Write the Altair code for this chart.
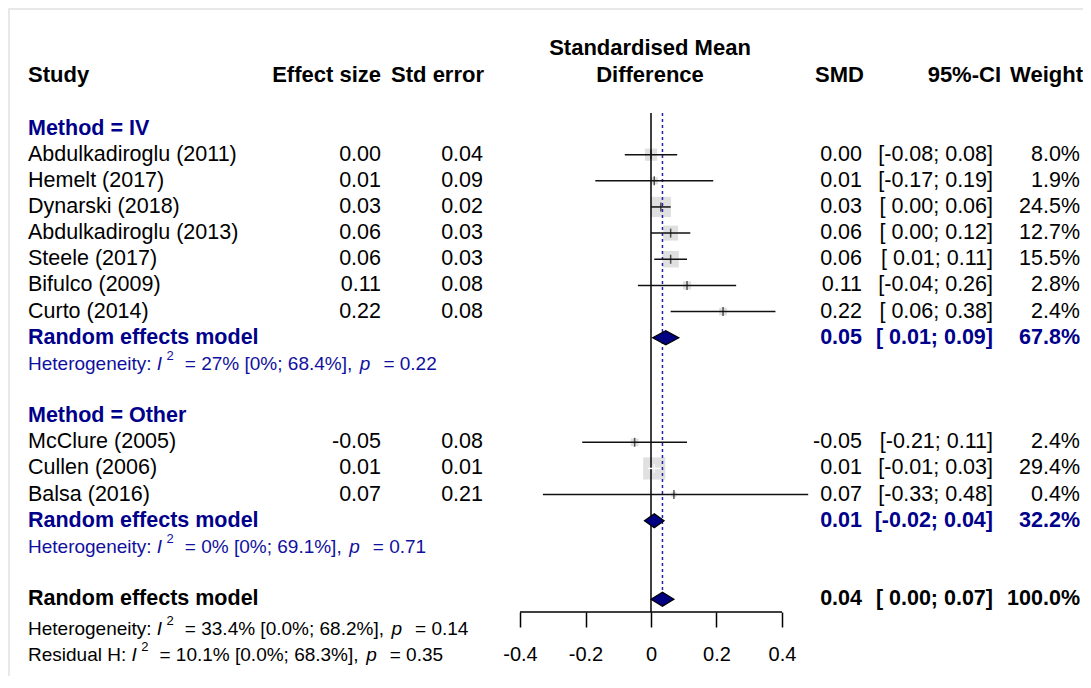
import altair as alt
import pandas as pd

# ---------------- data ----------------
studies = ["Abdulkadiroglu (2011)", "Hemelt (2017)", "Dynarski (2018)",
           "Abdulkadiroglu (2013)", "Steele (2017)", "Bifulco (2009)",
           "Curto (2014)", "McClure (2005)", "Cullen (2006)", "Balsa (2016)"]
effect = [0.00, 0.01, 0.03, 0.06, 0.06, 0.11, 0.22, -0.05, 0.01, 0.07]
std_err = [0.04, 0.09, 0.02, 0.03, 0.03, 0.08, 0.08, 0.08, 0.01, 0.21]
ci_lower = [-0.08, -0.17, 0.00, 0.00, 0.01, -0.04, 0.06, -0.21, -0.01, -0.33]
ci_upper = [0.08, 0.19, 0.06, 0.12, 0.11, 0.26, 0.38, 0.11, 0.03, 0.48]
weights = [8.0, 1.9, 24.5, 12.7, 15.5, 2.8, 2.4, 2.4, 29.4, 0.4]
study_rows = [1, 2, 3, 4, 5, 6, 7, 12, 13, 14]

group_titles = ["Method = IV", "Method = Other"]
group_rows = [0, 11]

summary_label = "Random effects model"
summary_rows = [8, 15, 18]
summary_est = [0.045, 0.010, 0.035]
summary_lower = [0.005, -0.020, 0.000]
summary_upper = [0.085, 0.040, 0.070]
summary_smd = ["0.05", "0.01", "0.04"]
summary_ci = ["[ 0.01; 0.09]", "[-0.02; 0.04]", "[ 0.00; 0.07]"]
summary_weight = ["67.8%", "32.2%", "100.0%"]

het_prefix = ["Heterogeneity:", "Heterogeneity:", "Heterogeneity:", "Residual H:"]
het_i2 = ["= 27% [0%; 68.4%],", "= 0% [0%; 69.1%],",
          "= 33.4% [0.0%; 68.2%],", "= 10.1% [0.0%; 68.3%],"]
het_p = ["= 0.22", "= 0.71", "= 0.14", "= 0.35"]
het_rows = [9, 16, 19.15, 20.15]
het_group = ["sub", "sub", "all", "all"]

axis_ticks = [-0.4, -0.2, 0, 0.2, 0.4]

# ---------------- layout constants ----------------
W = 1075
PLOT_H = 604
ROW0_PX = 120.5
ROW_PX = 26.15
ZERO_PX = 643
PX_PER_UNIT = 327.5
FONT = "Liberation Sans"
NAVY = "#00008B"
TXT = 21.5
BOLD_TXT = 22
HET_TXT = 19
SUP_TXT = 13

Y_TOP = -ROW0_PX / ROW_PX
Y_BOT = (PLOT_H - ROW0_PX) / ROW_PX
X_MIN = -ZERO_PX / PX_PER_UNIT
X_MAX = (W - ZERO_PX) / PX_PER_UNIT

xscale = alt.Scale(domain=[X_MIN, X_MAX], nice=False, zero=False)
yscale = alt.Scale(domain=[Y_TOP, Y_BOT], nice=False, zero=False, reverse=True)
x_axis = alt.Axis(values=axis_ticks, title=None, grid=False, domain=False,
                  tickSize=15, tickWidth=1.5, tickColor="black",
                  labelFontSize=20, labelFont=FONT, labelColor="black",
                  labelPadding=17, labelExpr="toString(datum.value)",
                  labelFlush=False, labelOverlap=False)


def X(field):
    return alt.X(field, type="quantitative", scale=xscale, axis=x_axis)


def Y(field):
    return alt.Y(field, type="quantitative", scale=yscale, axis=None)


# Arial / Liberation Sans advance widths (per em) for laying out the
# heterogeneity lines, which mix normal, italic and superscript text.
ARIAL_W = {" ": .278, "%": .889, ",": .278, ".": .278, ":": .278, ";": .278,
           "=": .584, "[": .278, "]": .278, "H": .722, "I": .278, "R": .722,
           "a": .556, "d": .556, "e": .556, "g": .556, "i": .222, "l": .222,
           "n": .556, "o": .556, "p": .556, "r": .333, "s": .5, "t": .278,
           "u": .556, "y": .5}


def tw(s, size):
    return sum(ARIAL_W.get(c, .556) for c in s) * size


# ---------------- tables ----------------
studies_df = pd.DataFrame({
    "study": studies, "effect": effect, "se": std_err,
    "lower": ci_lower, "upper": ci_upper, "weight": weights, "row": study_rows,
})
studies_df["eff_txt"] = [f"{v:.2f}" for v in effect]
studies_df["se_txt"] = [f"{v:.2f}" for v in std_err]
studies_df["ci_txt"] = ["[" + (" " if lo >= 0 else "") + f"{lo:.2f}; {hi:.2f}]"
                        for lo, hi in zip(ci_lower, ci_upper)]
studies_df["w_txt"] = [f"{w:.1f}%" for w in weights]

summary_df = pd.DataFrame({
    "label": [summary_label] * 3, "row": summary_rows, "est": summary_est,
    "smd": summary_smd, "ci": summary_ci, "w": summary_weight,
    "grp": ["sub", "sub", "all"],
})

HALF = 0.27
diamond_records = []
for k, (r, lo, est, hi) in enumerate(zip(summary_rows, summary_lower, summary_est, summary_upper)):
    diamond_records += [
        {"k": k, "x": lo, "y": r, "y2": r},
        {"k": k, "x": est, "y": r - HALF, "y2": r + HALF},
        {"k": k, "x": hi, "y": r, "y2": r},
    ]
diamond_df = pd.DataFrame(diamond_records)

groups_df = pd.DataFrame({"title": group_titles, "row": group_rows})

# heterogeneity segments: prefix, italic I, superscript 2, statistics, italic p, p value
seg_records = []
X0 = 20
for pre, i2, pv, r, g in zip(het_prefix, het_i2, het_p, het_rows, het_group):
    x_i = X0 + tw(pre + " ", HET_TXT)
    x_2 = x_i + tw("I", HET_TXT) + 4.5
    x_eq = x_i + 28
    x_p = x_eq + tw(i2 + " ", HET_TXT) + 2.3
    x_tail = x_p + tw("p", HET_TXT) + 13
    seg_records += [
        {"row": r, "grp": g, "style": "n", "px": X0, "txt": pre},
        {"row": r, "grp": g, "style": "i", "px": x_i, "txt": "I"},
        {"row": r, "grp": g, "style": "s", "px": x_2, "txt": "2"},
        {"row": r, "grp": g, "style": "n", "px": x_eq, "txt": i2},
        {"row": r, "grp": g, "style": "i", "px": x_p, "txt": "p"},
        {"row": r, "grp": g, "style": "n", "px": x_tail, "txt": pv},
    ]
seg_df = pd.DataFrame(seg_records)

zero_df = pd.DataFrame({"x": [0.0], "y": [-0.59]})
overall_df = pd.DataFrame({"x": [summary_est[2]], "y": [-0.59], "y2": [summary_rows[2]]})
axis_df = pd.DataFrame({"x": [axis_ticks[0]], "x2": [axis_ticks[-1]]})

header_df = pd.DataFrame({
    "txt": ["Study", "Effect size", "Std error", "Standardised Mean", "Difference",
            "SMD", "95%-CI", "Weight"],
    "row": [-2.05, -2.05, -2.05, -3.08, -2.05, -2.05, -2.05, -2.05],
})

# ---------------- frame (light border of the picture) ----------------
frame_top = alt.Chart(pd.DataFrame({"a": [0]})).mark_rule(color="#e8e8e8", strokeWidth=2).encode(
    x=alt.value(0), x2=alt.value(W), y=alt.value(1))
frame_left = alt.Chart(pd.DataFrame({"a": [0]})).mark_rule(color="#e8e8e8", strokeWidth=2).encode(
    x=alt.value(1), y=alt.value(0), y2=alt.value(PLOT_H + 64))

# ---------------- forest marks ----------------
zero_line = alt.Chart(zero_df).mark_rule(color="black", strokeWidth=1.5).encode(
    x=X("x"), y=Y("y"), y2=alt.value(PLOT_H))

axis_line = alt.Chart(axis_df).mark_rule(color="black", strokeWidth=1.5).encode(
    x=X("x"), x2="x2", y=alt.value(PLOT_H))

overall_line = alt.Chart(overall_df).mark_rule(
    color="#2222AA", strokeWidth=1.5, strokeDash=[3, 3]).encode(
    x=X("x"), y=Y("y"), y2="y2")

squares = alt.Chart(studies_df).mark_square(color="#E0E0E0", opacity=1).encode(
    x=X("effect"), y=Y("row"),
    size=alt.Size("weight:Q", scale=alt.Scale(domain=[0, 29.4], range=[22, 490]), legend=None))

ci_color = alt.condition("datum.upper - datum.lower < 0.05", alt.value("white"), alt.value("#111111"))

ci_lines = alt.Chart(studies_df).mark_rule(strokeWidth=1.5).encode(
    x=X("lower"), x2="upper", y=Y("row"), color=ci_color)

est_ticks = alt.Chart(studies_df).mark_tick(orient="vertical", size=9, thickness=1.5).encode(
    x=X("effect"), y=Y("row"), color=ci_color)

diamonds = alt.Chart(diamond_df).mark_area(
    orient="vertical", fill="#000080", stroke="black", strokeWidth=1.2,
    interpolate="linear", opacity=1).encode(
    x=X("x"), y=Y("y"), y2="y2", detail="k:N")


# ---------------- text marks ----------------
def text_layer(df, field, xpx, align, size=TXT, bold=False, color="black"):
    return alt.Chart(df).mark_text(
        align=align, baseline="middle", font=FONT, fontSize=size,
        fontWeight="bold" if bold else "normal", color=color).encode(
        x=alt.value(xpx), y=Y("row"), text=f"{field}:N")


headers = []
hx = [(20, "left"), (373, "right"), (476, "right"), (642, "center"), (642, "center"),
      (856, "right"), (993, "right"), (1075, "right")]
for i, (px, al) in enumerate(hx):
    headers.append(text_layer(header_df.iloc[[i]], "txt", px, al, size=BOLD_TXT, bold=True))

study_text = [
    text_layer(studies_df, "study", 20, "left"),
    text_layer(studies_df, "eff_txt", 373, "right"),
    text_layer(studies_df, "se_txt", 475, "right"),
    text_layer(studies_df, "eff_txt", 854, "right"),
    text_layer(studies_df, "ci_txt", 985, "right"),
    text_layer(studies_df, "w_txt", 1072, "right"),
]

group_text = [text_layer(groups_df, "title", 20, "left", bold=True, color=NAVY)]

sub = summary_df[summary_df.grp == "sub"]
allr = summary_df[summary_df.grp == "all"]
summary_text = []
for d, col in [(sub, NAVY), (allr, "black")]:
    summary_text += [
        text_layer(d, "label", 20, "left", bold=True, color=col),
        text_layer(d, "smd", 854, "right", bold=True, color=col),
        text_layer(d, "ci", 985, "right", bold=True, color=col),
        text_layer(d, "w", 1072, "right", bold=True, color=col),
    ]

het_text = []
for g, col in [("sub", "#1010A0"), ("all", "black")]:
    for style in ["n", "i", "s"]:
        d = seg_df[(seg_df.grp == g) & (seg_df["style"] == style)]
        het_text.append(alt.Chart(d).mark_text(
            align="left", baseline="middle", font=FONT,
            fontSize=SUP_TXT if style == "s" else HET_TXT,
            fontStyle="italic" if style == "i" else "normal",
            dy=-8 if style == "s" else 0, color=col).encode(
            x=alt.X("px:Q", scale=None, axis=None), y=Y("row"), text="txt:N"))

chart = alt.layer(
    frame_top, frame_left,
    squares, zero_line, overall_line, ci_lines, est_ticks, diamonds, axis_line,
    *headers, *study_text, *group_text, *summary_text, *het_text,
).properties(
    width=W, height=PLOT_H,
    autosize=alt.AutoSizeParams(type="none"),
    padding={"left": 0, "top": 0, "right": 0, "bottom": 64},
).configure_view(stroke=None)

chart.save("out.html", embed_options={"renderer": "svg", "actions": False})
